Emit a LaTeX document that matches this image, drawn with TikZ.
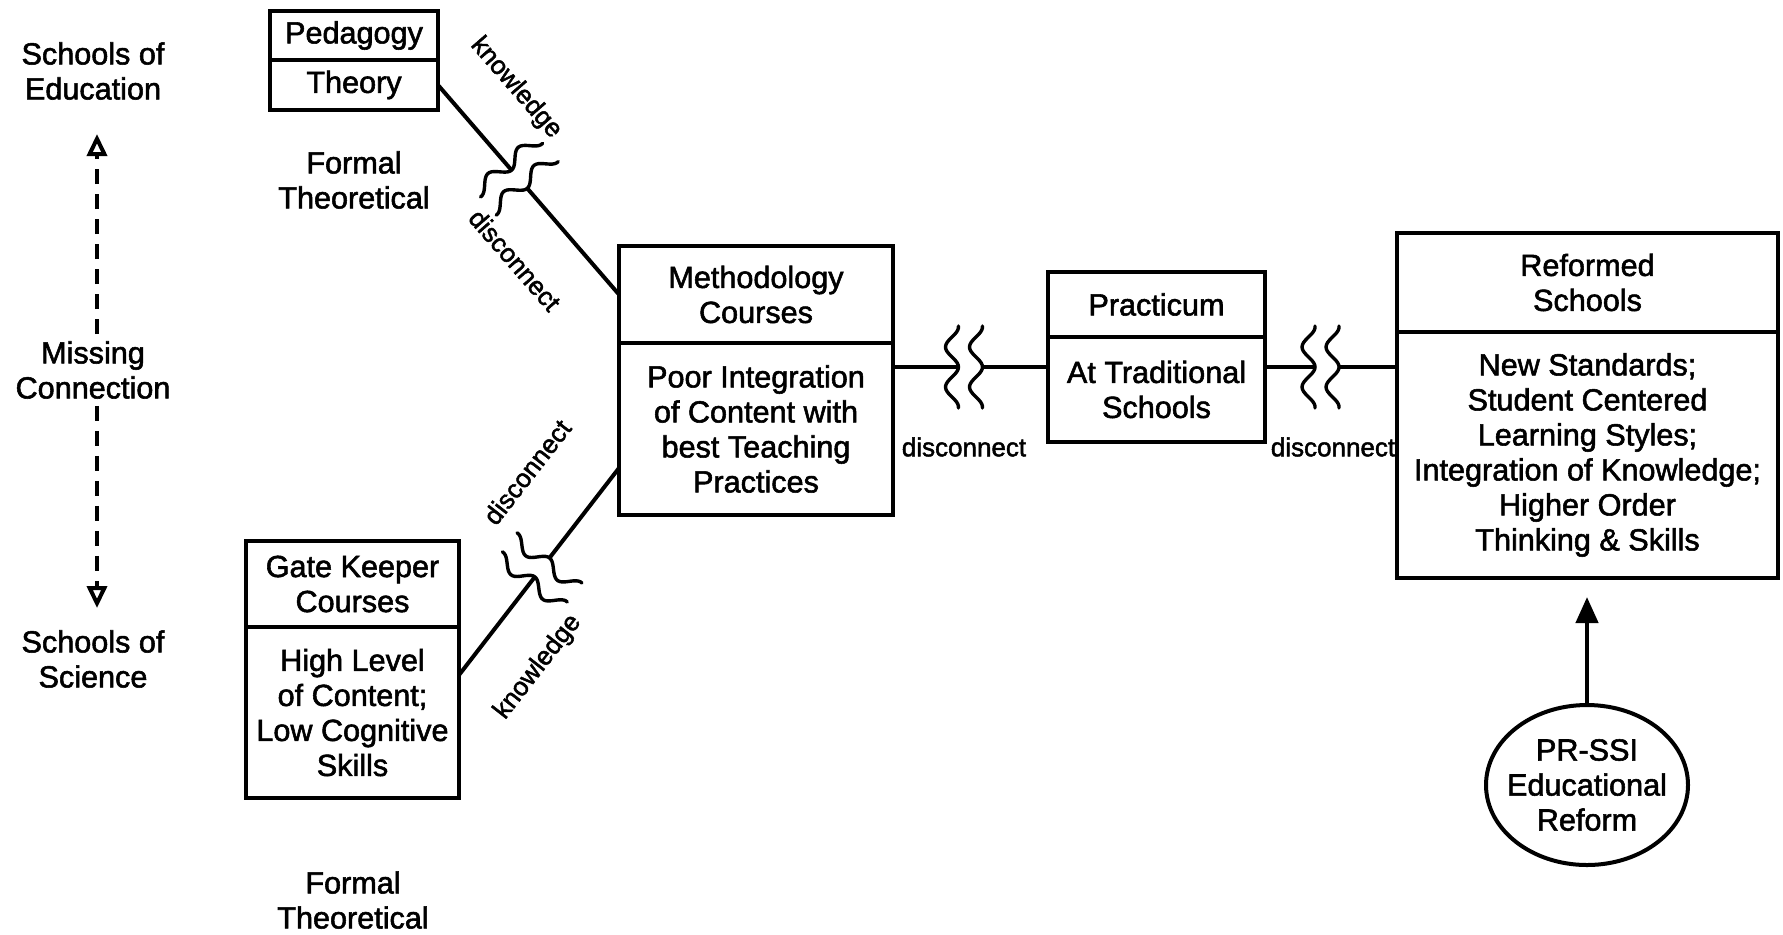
\documentclass[tikz,border=0pt]{standalone}
\usepackage{fontspec}
\setmainfont{Liberation Sans}[FakeBold=1.8]
\usetikzlibrary{shapes.geometric}
\usetikzlibrary{arrows.meta}
\usetikzlibrary{positioning}
\tikzset{
	txt/.style = {align=center, font=\fontsize{15.3}{17.5}\selectfont},
	box_h/.style = {txt, rectangle, draw=black, line width=2pt,
		inner sep=0pt, outer sep=0pt},% boite, partie haute
	box_b/.style = {box_h},% boite, partie basse
	lbl/.style = {align=center, inner sep=0pt,
		font=\fontsize{13}{15}\selectfont},% etiquette de lien
	link/.style = {line width=2pt},
	miss_arrow/.style = {line width=2pt, dash pattern=on 7.5pt off 5pt,
		-{Triangle[open, length=11pt, width=10pt]}},
	up_arrow/.style = {line width=2.2pt, -{Triangle[length=13pt, width=11pt]},
		shorten >=9.5pt},
	brk/.pic = {
		\fill[white] (-12,-5) rectangle (12,5);
		\foreach \dx in {-18.5,5.5}
			\draw[line width=1.7pt, line cap=round] plot[domain=-41:41, samples=41, smooth]
				({\dx+6.5*cos(9*\x)}, \x);
	}
}
\begin{document}
\begin{tikzpicture}[x=0.5pt, y=-0.5pt]
	\useasboundingbox (0,0) rectangle (1783,934);
	% left column
	\node [txt] (eduschools) at (93,71) {Schools of\\Education};
	\node [txt] (missing) at (93,370) {Missing\\Connection};
	\node [txt] (scischools) at (93,659) {Schools of\\Science};
	\coordinate (edutip) at (97,134);
	\coordinate (scitip) at (97,608);
	\draw [miss_arrow] (missing.north -| edutip) -- (edutip);
	\draw [miss_arrow] (missing.south -| scitip) -- (scitip);
	% boxes
	\node [box_h, minimum width=84pt, minimum height=24.5pt] (pedagogy) at (354,35.5) {Pedagogy};
	\node [box_b, minimum width=84pt, minimum height=25pt, below=0pt of pedagogy] (theory) {Theory};
	\node [txt] (formtop) at (354,180) {Formal\\Theoretical};
	\node [box_h, minimum width=106.5pt, minimum height=43pt] (gatehead) at (352.5,584) {Gate Keeper\\Courses};
	\node [box_b, minimum width=106.5pt, minimum height=85.5pt, below=0pt of gatehead] (gatebody)
		{High Level\\of Content;\\Low Cognitive\\Skills};
	\node [txt] (formbot) at (353,900) {Formal\\Theoretical};
	\node [box_h, minimum width=137pt, minimum height=48.5pt] (methhead) at (756,294.5) {Methodology\\Courses};
	\node [box_b, minimum width=137pt, minimum height=86pt, below=0pt of methhead] (methbody)
		{Poor Integration\\of Content with\\best Teaching\\Practices};
	\node [box_h, minimum width=108.5pt, minimum height=32.5pt] (prachead) at (1156.5,304.5) {Practicum};
	\node [box_b, minimum width=108.5pt, minimum height=52.5pt, below=0pt of prachead] (pracbody)
		{At Traditional\\Schools};
	\node [box_h, minimum width=190.5pt, minimum height=49.5pt] (refhead) at (1587.5,282.5) {Reformed\\Schools};
	\node [box_b, minimum width=190.5pt, minimum height=123pt, below=0pt of refhead] (refbody)
		{New Standards;\\Student Centered\\Learning Styles;\\Integration of Knowledge;\\Higher Order\\Thinking \& Skills};
	\node [txt, ellipse, draw=black, line width=2pt, minimum width=101pt, minimum height=80pt,
		inner xsep=-12pt, inner ysep=0pt] (reform) at (1587,785) {PR-SSI\\Educational\\Reform};
	\draw [up_arrow] (reform.north) -- (reform.north |- refbody.south);
	% links with breaks
	\coordinate (gateout) at ([yshift=18.75pt]gatebody.east);
	\coordinate (methin) at ([yshift=-19.5pt]methbody.west);
	\coordinate (rowa) at ([yshift=-12pt]methbody.north east);
	\draw [link] (theory.east) -- (methhead.west);
	\draw [link] (gateout) -- (methin);
	\draw [link] (rowa) -- (rowa -| pracbody.west);
	\draw [link] (rowa -| pracbody.east) -- (rowa -| refbody.west);
	\path (theory.east) -- (methhead.west) pic [pos=.45, sloped] {brk};
	\path (gateout) -- (methin) pic [pos=.52, sloped] {brk};
	\path (rowa) -- (rowa -| pracbody.west) pic [pos=.5, sloped] {brk};
	\path (rowa -| pracbody.east) -- (rowa -| refbody.west) pic [pos=.47, sloped] {brk};
	\node [lbl, rotate=-49] (knowa) at (516,88) {knowledge};
	\node [lbl, rotate=-49] (disca) at (515,260) {disconnect};
	\node [lbl, rotate=52] (discb) at (527,472) {disconnect};
	\node [lbl, rotate=52] (knowb) at (538,667) {knowledge};
	\node [lbl] (discc) at (964,447) {disconnect};
	\node [lbl] (discd) at (1333,447) {disconnect};
\end{tikzpicture}
\end{document}
